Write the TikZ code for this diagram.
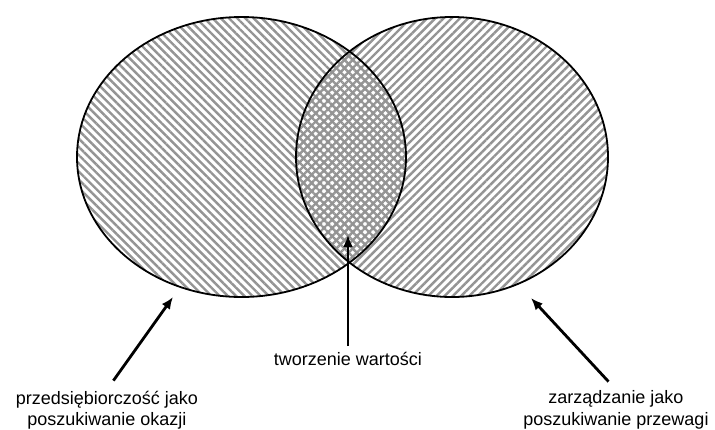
\documentclass[tikz,border=0pt]{standalone}
\usepackage{fontspec}
\setmainfont{Liberation Sans}
\usetikzlibrary{patterns.meta,arrows.meta}

\tikzset{
  hatchleft/.style={pattern={Lines[angle=-45,distance=5.8pt,line width=2.4pt]}, pattern color=black!42},
  hatchright/.style={pattern={Lines[angle=45,distance=5.8pt,line width=2.4pt]}, pattern color=black!42},
  pointer/.style={-{Latex[length=12pt,width=10pt]}, line width=2.8pt},
  caption/.style={align=center, font=\fontsize{18}{21.5}\selectfont, inner sep=1pt}
}

\begin{document}
\begin{tikzpicture}[x=1pt, y=-1pt]
  \useasboundingbox (0,0) rectangle (715,429);

  % hatched sets
  \fill[hatchleft] (241.5,157) ellipse [x radius=164.5, y radius=140];
  \fill[hatchright] (452,157) ellipse [x radius=156, y radius=140];
  \draw[line width=1.8pt] (241.5,157) ellipse [x radius=164.5, y radius=140];
  \draw[line width=1.8pt] (452,157) ellipse [x radius=156, y radius=140];

  % labels
  \node[caption] (okazja) at (107,410) {przedsiębiorczość jako\\poszukiwanie okazji};
  \node[caption] (wartosc) at (348,359) {tworzenie wartości};
  \node[caption] (przewaga) at (616,410) {zarządzanie jako\\poszukiwanie przewagi};

  % arrow tips
  \coordinate (tipleft) at (173,297);
  \coordinate (tipmid) at (348,235);
  \coordinate (tipright) at (531,298);

  \draw[pointer, shorten <=11pt] (okazja.north) -- (tipleft);
  \draw[pointer, shorten <=5pt] (wartosc.north) -- (tipmid);
  \draw[pointer, shorten <=11pt] (przewaga.north) -- (tipright);
\end{tikzpicture}
\end{document}
